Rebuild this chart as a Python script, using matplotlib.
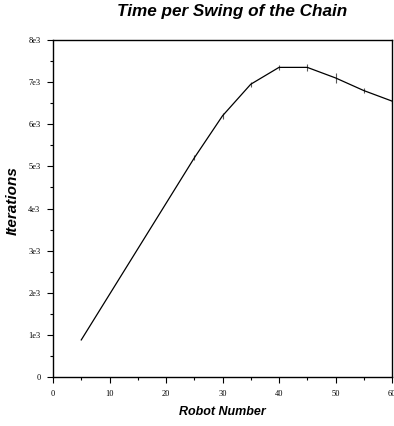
import matplotlib
matplotlib.use("Agg")
import matplotlib.pyplot as plt
from matplotlib.ticker import MultipleLocator

# ------------------------------------------------------------------ data
robots = [5, 25, 30, 35, 40, 45, 50, 55, 60]
iterations = [880, 5200, 6200, 6950, 7350, 7350, 7100, 6800, 6550]
errors = [0, 60, 70, 60, 60, 90, 110, 70, 60]

y_ticks = [0, 1000, 2000, 3000, 4000, 5000, 6000, 7000, 8000]
y_labels = ["0", "1e3", "2e3", "3e3", "4e3", "5e3", "6e3", "7e3", "8e3"]
x_ticks = [0, 10, 20, 30, 40, 50, 60]

# ------------------------------------------------------------------ plot
fig = plt.figure(figsize=(3.94, 4.26), dpi=100)
ax = fig.add_axes([53 / 394, 1 - 377 / 426, 339 / 394, 337 / 426])

ax.errorbar(robots, iterations, yerr=errors, color="black", lw=0.9,
            ecolor="0.35", elinewidth=0.8, capsize=0)

ax.set_xlim(0, 60)
ax.set_ylim(0, 8000)
ax.set_xticks(x_ticks)
ax.set_yticks(y_ticks)
ax.set_yticklabels(y_labels)
ax.xaxis.set_minor_locator(MultipleLocator(5))
ax.yaxis.set_minor_locator(MultipleLocator(500))

ax.tick_params(which="major", direction="out", length=4, width=0.8,
               labelsize=6, pad=5)
ax.tick_params(which="minor", direction="out", length=2.5, width=0.8)
ax.tick_params(axis="y", which="both", right=False)
ax.tick_params(axis="x", which="both", top=False)
for lab in ax.get_xticklabels() + ax.get_yticklabels():
    lab.set_fontfamily("Liberation Serif")

for sp in ax.spines.values():
    sp.set_linewidth(1.0)

fig.text(0.588, 0.972, "Time per Swing of the Chain", ha="center", va="center",
         fontsize=12.3, fontweight="bold", fontstyle="italic",
         family="Liberation Sans")
ax.set_xlabel("Robot Number", fontsize=9, fontweight="bold", fontstyle="italic",
              family="Liberation Sans", labelpad=6)
fig.text(13 / 394, 1 - 201 / 426, "Iterations", rotation=90, ha="center",
         va="center", fontsize=11, fontweight="bold", fontstyle="italic",
         family="Liberation Sans")

fig.savefig("out.png", dpi=100)
